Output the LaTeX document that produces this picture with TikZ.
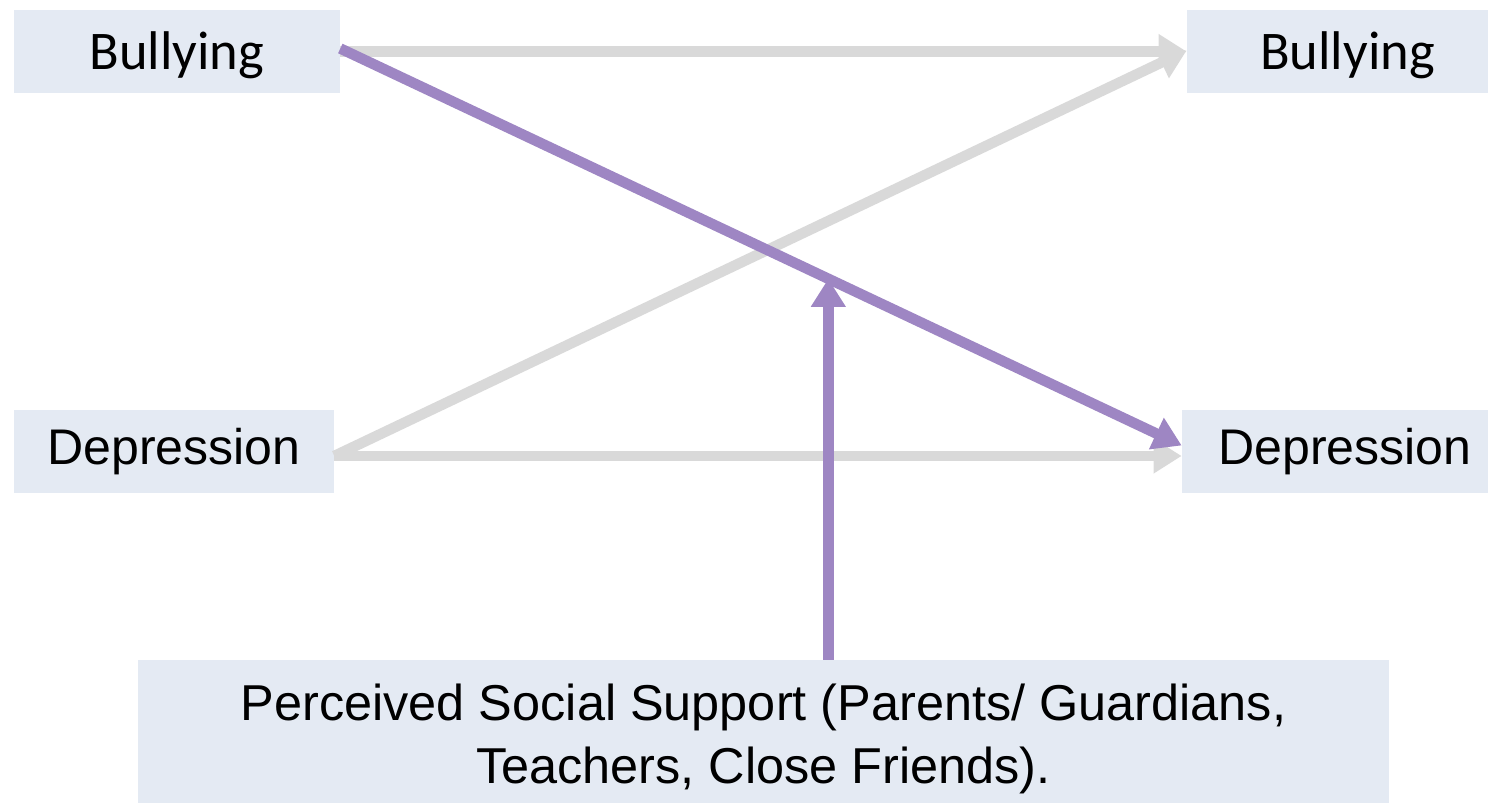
\documentclass[tikz,border=0pt]{standalone}
\usepackage{fontspec}
\setmainfont{Liberation Sans}
\newfontfamily\bullyfont{Carlito}
\usetikzlibrary{arrows.meta,calc}

\definecolor{boxfill}{RGB}{228,234,243}
\definecolor{pathgray}{RGB}{217,217,217}
\definecolor{pathpurple}{RGB}{158,134,195}

\tikzset{
  varbox/.style={fill=boxfill, inner sep=0pt, minimum height=1.66cm, font=\fontsize{28.5}{34}\selectfont},
  bullybox/.style={varbox, font=\bullyfont\fontsize{31}{36}\selectfont},
  grayarrow/.style={pathgray, line width=0.21cm, -{Triangle[length=0.56cm,width=0.66cm]}},
  purplearrow/.style={pathpurple, line width=0.21cm, -{Triangle[length=0.56cm,width=0.66cm]}}
}

\begin{document}
\begin{tikzpicture}[x=0.02cm, y=-0.02cm]
        \useasboundingbox (0,0) rectangle (1488,803);

        % Time 1 and time 2 variables
        \node [bullybox, minimum width=6.52cm] (bl) at (177,51.5) {\rule{0pt}{0.9cm}Bullying};
        \node [bullybox, minimum width=6.02cm] (br) at (1337.5,51.5) {\rule{0pt}{0.9cm}\hspace{0.4cm}Bullying};
        \node [varbox, minimum width=6.4cm] (dl) at (174,451.5) {Depression};
        \node [varbox, minimum width=6.12cm] (dr) at (1335,451.5) {\hspace{0.4cm}Depression};

        % Moderator
        \node [varbox, minimum width=25.02cm, minimum height=2.86cm, align=center,
               font=\fontsize{28.7}{36}\selectfont] (sup) at (763.5,731.5)
              {\rule{0pt}{1.02cm}Perceived Social Support (Parents/ Guardians,\\Teachers, Close Friends).};

        % Stability and cross-lagged paths
        \draw [grayarrow] (bl.east) -- (br.west);
        \draw [grayarrow] ([yshift=-0.09cm]dl.east) -- ([yshift=0.02cm]br.west);
        \draw [grayarrow] ([yshift=-0.09cm]dl.east) -- ([yshift=-0.09cm]dr.west);
        \draw [purplearrow] ([yshift=0.06cm]bl.east) -- ([yshift=0.12cm]dr.west);

        % Moderation
        \coordinate (m) at ($([yshift=0.06cm]bl.east)!0.58!([yshift=0.12cm]dr.west)$);
        \draw [purplearrow] (m |- sup.north) -- (m);
    \end{tikzpicture}
\end{document}
